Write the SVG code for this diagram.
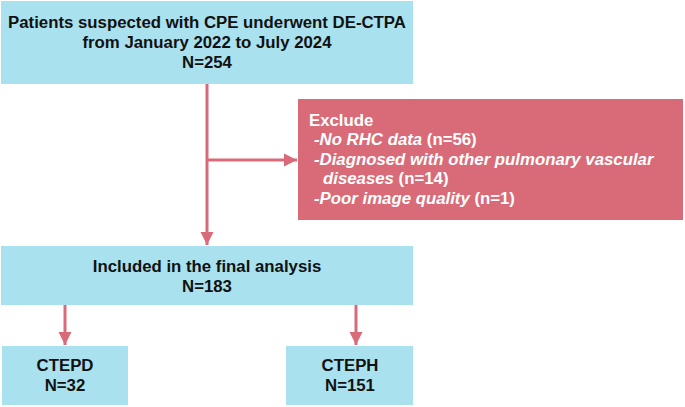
<svg xmlns="http://www.w3.org/2000/svg" width="685" height="407" viewBox="0 0 685 407">
<defs>
<style>
.box{fill:#a9e1ee}
.ex{fill:#d96b78}
.t{font-family:"Liberation Sans",Arial,sans-serif;font-weight:bold;font-size:16.8px;fill:#111}
.w{font-family:"Liberation Sans",Arial,sans-serif;font-weight:bold;font-size:16.8px;fill:#fff}
.i{font-style:italic}
.ln{stroke:#d96b78;stroke-width:3;fill:none}
</style>
<marker id="ah" viewBox="0 0 10 10" refX="10" refY="5" markerWidth="4.5" markerHeight="4.5" orient="auto" markerUnits="strokeWidth">
<path d="M0,0 L10,5 L0,10 z" fill="#d96b78"/>
</marker>
</defs>
<rect width="685" height="407" fill="#fff"/>
<g id="connectors">
<path class="ln" d="M207,84 V245" marker-end="url(#ah)"/>
<path class="ln" d="M207,160 H297" marker-end="url(#ah)"/>
<path class="ln" d="M65,305 V345" marker-end="url(#ah)"/>
<path class="ln" d="M356,305 V345" marker-end="url(#ah)"/>
</g>
<g id="n1">
<rect class="box" x="1" y="1" width="412" height="83"/>
<text class="t" text-anchor="middle"><tspan x="207" y="28">Patients suspected with CPE underwent DE-CTPA</tspan><tspan x="207" y="48">from January 2022 to July 2024</tspan><tspan x="207" y="68">N=254</tspan></text>
</g>
<g id="exclude">
<rect class="ex" x="298" y="99" width="385" height="121"/>
<text class="w"><tspan x="309" y="126">Exclude</tspan><tspan x="314" y="145"><tspan class="i">-No RHC data</tspan> (n=56)</tspan><tspan x="314" y="165" class="i">-Diagnosed with other pulmonary vascular</tspan><tspan x="323" y="184"><tspan class="i">diseases</tspan> (n=14)</tspan><tspan x="314" y="204"><tspan class="i">-Poor image quality</tspan> (n=1)</tspan></text>
</g>
<g id="included">
<rect class="box" x="1" y="246" width="412" height="59"/>
<text class="t" text-anchor="middle"><tspan x="207" y="272">Included in the final analysis</tspan><tspan x="207" y="292">N=183</tspan></text>
</g>
<g id="ctepd">
<rect class="box" x="2" y="346" width="126" height="59"/>
<text class="t" text-anchor="middle"><tspan x="65" y="371">CTEPD</tspan><tspan x="65" y="391">N=32</tspan></text>
</g>
<g id="cteph">
<rect class="box" x="286" y="346" width="127" height="59"/>
<text class="t" text-anchor="middle"><tspan x="350" y="371">CTEPH</tspan><tspan x="350" y="391">N=151</tspan></text>
</g>
</svg>
